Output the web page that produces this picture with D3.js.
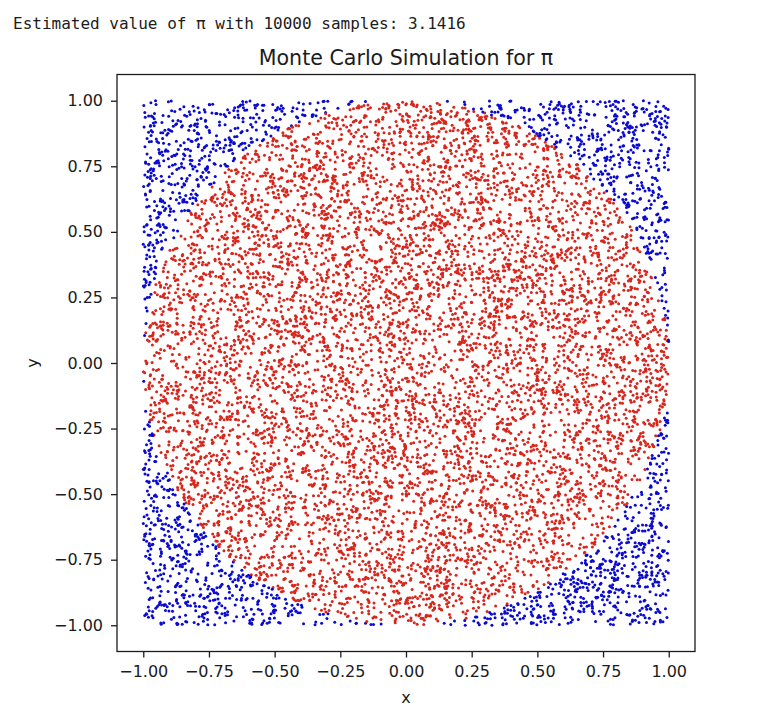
<!DOCTYPE html>
<html><head><meta charset="utf-8">
<script src="https://cdn.jsdelivr.net/npm/d3@7"></script>
<style>body{margin:0;background:#fff}</style>
</head><body>
<svg id="c" width="773" height="709"></svg>
<script>
// ---- data ----
const nSamples = 10000;
const piEstimateText = "3.1416";
const headerText = "Estimated value of π with " + nSamples + " samples: " + piEstimateText;
const titleText = "Monte Carlo Simulation for π";
const xLabel = "x", yLabel = "y";
const xTicks = [-1.00, -0.75, -0.50, -0.25, 0.00, 0.25, 0.50, 0.75, 1.00];
const yTicks = [-1.00, -0.75, -0.50, -0.25, 0.00, 0.25, 0.50, 0.75, 1.00];
const seriesNames = ["inside", "outside"];
const seriesColors = ["#d8261c", "#0a0ad0"];
// The individual samples cannot be read from the picture; they are the simulation itself,
// reproduced with a fixed-seed uniform generator.
function mulberry32(a){return function(){a|=0;a=a+0x6D2B79F5|0;let t=Math.imul(a^a>>>15,1|a);t=t+Math.imul(t^t>>>7,61|t)^t;return((t^t>>>14)>>>0)/4294967296;}}
const rng = mulberry32(20240601);
const sampleX = [], sampleY = [];
for (let i=0;i<nSamples;i++){ sampleX.push(rng()*2-1); sampleY.push(rng()*2-1); }

// ---- chart ----
const svg = d3.select("#c");
const L=117, R=695, T=74.5, B=651.5;
const x = d3.scaleLinear().domain([-1.1,1.1]).range([L,R]);
const y = d3.scaleLinear().domain([-1.1,1.1]).range([B,T]);
const font = "DejaVu Sans, sans-serif";
const ink = "#1c1c1c";
const fmt = v => d3.format(".2f")(v).replace("-", "\u2212");

svg.append("text").attr("x",13).attr("y",29)
  .attr("font-family","DejaVu Sans Mono, monospace").attr("font-size",16).attr("fill",ink)
  .text(headerText);

svg.append("text").attr("x",(L+R)/2).attr("y",65).attr("text-anchor","middle")
  .attr("font-family",font).attr("font-size",20.6).attr("fill",ink).text(titleText);

const pts = sampleX.map((vx,i)=>({x:vx,y:sampleY[i],s: vx*vx+sampleY[i]*sampleY[i] <= 1 ? 0 : 1}));
const g = svg.append("g");
g.selectAll("circle").data(pts).join("circle")
  .attr("cx",d=>x(d.x)).attr("cy",d=>y(d.y)).attr("r",1.5)
  .attr("fill",d=>seriesColors[d.s]);

const xa = svg.append("g").attr("transform",`translate(0,${B})`)
  .call(d3.axisBottom(x).tickValues(xTicks).tickFormat(fmt).tickSize(6).tickPadding(8));
const ya = svg.append("g").attr("transform",`translate(${L},0)`)
  .call(d3.axisLeft(y).tickValues(yTicks).tickFormat(fmt).tickSize(6).tickPadding(8));
[xa,ya].forEach(a=>{
  a.select(".domain").remove();
  a.selectAll("line").attr("stroke",ink).attr("stroke-width",1.3);
  a.selectAll("text").attr("font-family",font).attr("font-size",16).attr("fill",ink);
});
svg.append("rect").attr("x",L).attr("y",T).attr("width",R-L).attr("height",B-T)
  .attr("fill","none").attr("stroke",ink).attr("stroke-width",1.3);

svg.append("text").attr("x",(L+R)/2).attr("y",703).attr("text-anchor","middle")
  .attr("font-family",font).attr("font-size",16).attr("fill",ink).text(xLabel);
svg.append("text").attr("transform",`translate(38,${(T+B)/2}) rotate(-90)`).attr("text-anchor","middle")
  .attr("font-family",font).attr("font-size",16).attr("fill",ink).text(yLabel);
</script>
</body></html>
